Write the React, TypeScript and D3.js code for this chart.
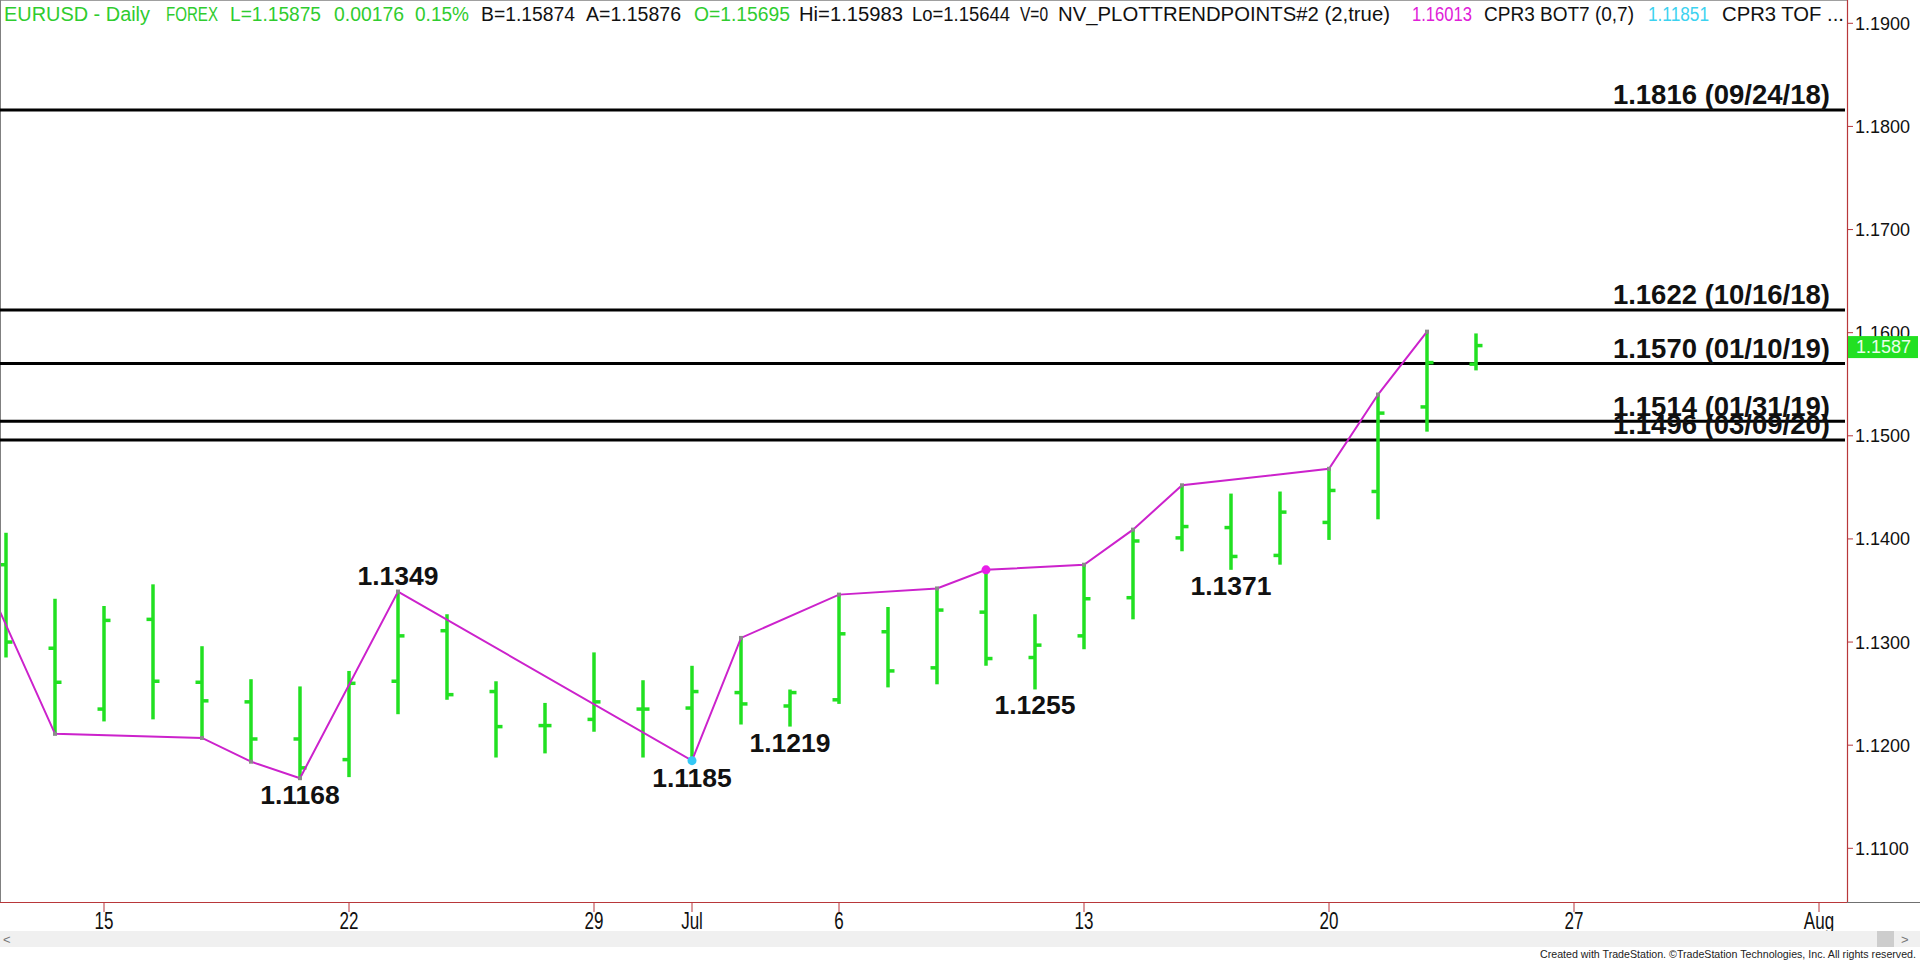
import React from "react";
import * as d3 from "d3";

// ---- data ----
const barDates = [
  "2020-06-11","2020-06-12","2020-06-15","2020-06-16","2020-06-17","2020-06-18","2020-06-19",
  "2020-06-22","2020-06-23","2020-06-24","2020-06-25","2020-06-26","2020-06-29","2020-06-30",
  "2020-07-01","2020-07-02","2020-07-03","2020-07-06","2020-07-07","2020-07-08","2020-07-09",
  "2020-07-10","2020-07-13","2020-07-14","2020-07-15","2020-07-16","2020-07-17","2020-07-20",
  "2020-07-21","2020-07-22","2020-07-23",
];
const opens = [1.1375,1.1294,1.1235,1.1322,1.1261,1.1242,1.1206,1.1186,1.1262,1.1311,1.1252,1.1219,1.1225,1.1235,1.1236,1.1251,1.1238,1.1244,1.1310,1.1275,1.1329,1.1285,1.1306,1.1343,1.1401,1.1411,1.1384,1.1416,1.1446,1.1528,1.15695];
const highs = [1.1405,1.1341,1.1334,1.1355,1.1295,1.1263,1.1256,1.1271,1.1349,1.1326,1.1261,1.1240,1.1289,1.1262,1.1276,1.1304,1.1253,1.1346,1.1333,1.1352,1.1370,1.1326,1.1375,1.1409,1.1452,1.1443,1.1445,1.1468,1.1540,1.1601,1.15983];
const lows = [1.1286,1.1211,1.1224,1.1226,1.1207,1.1184,1.1168,1.1170,1.1231,1.1245,1.1189,1.1193,1.1214,1.1189,1.1185,1.1221,1.1219,1.1241,1.1257,1.1260,1.1278,1.1255,1.1294,1.1323,1.1389,1.1371,1.1376,1.1400,1.1420,1.1505,1.15644];
const closes = [1.1300,1.1261,1.1321,1.1262,1.1243,1.1206,1.1178,1.1260,1.1306,1.1249,1.1218,1.1219,1.1242,1.1235,1.1252,1.1240,1.1251,1.1308,1.1272,1.1331,1.1284,1.1297,1.1342,1.1398,1.1412,1.1383,1.1426,1.1447,1.1522,1.1571,1.15875];

// trend points (bar index, price); index -1 is the prior session (off-screen)
const trendIdx = [-1,1,4,5,6,8,14,15,17,19,20,22,23,24,27,28,29];
const trendVal = [1.1422,1.1211,1.1207,1.1184,1.1168,1.1349,1.1185,1.1304,1.1346,1.1352,1.1370,1.1375,1.1409,1.1452,1.1468,1.1540,1.1601];

// swing labels
const swingIdx = [8,6,14,16,21,25];
const swingVal = [1.1349,1.1168,1.1185,1.1219,1.1255,1.1371];
const swingIsHigh = [true,false,false,false,false,false];

// horizontal levels
const levelVals = [1.1816,1.1622,1.1570,1.1514,1.1496];
const levelDates = ["09/24/18","10/16/18","01/10/19","01/31/19","03/09/20"];

// axes
const yTicks = [1.11,1.12,1.13,1.14,1.15,1.16,1.17,1.18,1.19];
const xTickIdx = [2,7,12,14,17,22,27,32,37];
const xTickLabels = ["15","22","29","Jul","6","13","20","27","Aug"];

const lastPrice = 1.1587;

// header segments
const headerText = [
  "EURUSD - Daily","FOREX","L=1.15875","0.00176","0.15%","B=1.15874","A=1.15876","O=1.15695",
  "Hi=1.15983","Lo=1.15644","V=0","NV_PLOTTRENDPOINTS#2 (2,true)","1.16013","CPR3 BOT7 (0,7)","1.11851","CPR3 TOF ...",
];
const headerColor = ["g","g","g","g","g","k","k","g","k","k","k","k","m","k","c","k"];

const W = 1920, H = 963;
const PLOT_R = 1847, PLOT_B = 902;
const GREEN = "#22e022";
const HGREEN = "#2fcc2f";
const MAGENTA = "#cc22cc";
const AXIS_RED = "#b8373a";

export default function App() {
  const x = d3.scaleLinear().domain([0, 30]).range([6, 1476]);
  const y = d3.scaleLinear().domain([1.11, 1.19]).range([848.3, 23.3]);

  const trendPts: [number, number][] = trendIdx.map((i, k) => [x(i), y(trendVal[k])]);
  const trendPath = d3.line()(trendPts) || "";

  const headerX = [4,166,230,334,415,481,586,694,799,912,1020,1058,1412,1484,1648,1722];
  const headerW = [146,52,91,70,54,94,95,96,104,98,28,332,60,150,61,122];
  const colorMap: Record<string, string> = { g: HGREEN, k: "#111", m: "#e020d8", c: "#3cd2f0" };

  const font = "'Liberation Sans', Arial, sans-serif";

  return (
    <svg width={W} height={H} style={{ position: "absolute", left: 0, top: 0, background: "#fff" }} fontFamily={font}>
      <defs>
        <clipPath id="plotClip">
          <rect x={1} y={1} width={PLOT_R - 1} height={PLOT_B - 1} />
        </clipPath>
      </defs>
      <rect x={0} y={0} width={W} height={H} fill="#fff" />

      {/* frame */}
      <line x1={0} y1={0.5} x2={PLOT_R} y2={0.5} stroke="#a0a0a0" />
      <line x1={0.5} y1={0} x2={0.5} y2={PLOT_B} stroke="#808080" />

      {/* header */}
      {headerText.map((t, i) => (
        <text
          key={"h" + i}
          x={headerX[i]}
          y={21}
          fontSize={19.5}
          fill={colorMap[headerColor[i]]}
          textLength={headerW[i]}
          lengthAdjust="spacingAndGlyphs"
        >
          {t}
        </text>
      ))}

      {/* horizontal levels */}
      {levelVals.map((v, i) => (
        <line key={"lv" + i} x1={0} x2={1845} y1={y(v)} y2={y(v)} stroke="#000" strokeWidth={3} />
      ))}

      <g clipPath="url(#plotClip)">
        {/* bars */}
        {barDates.map((d, i) => {
          const cx = x(i);
          return (
            <g key={d} stroke={GREEN} strokeWidth={3.5}>
              <line x1={cx} x2={cx} y1={y(highs[i]) - 1} y2={y(lows[i]) + 1} />
              <line x1={cx - 6.5} x2={cx} y1={y(opens[i])} y2={y(opens[i])} />
              <line x1={cx} x2={cx + 6.5} y1={y(closes[i])} y2={y(closes[i])} />
            </g>
          );
        })}
        {/* trend line */}
        <path d={trendPath} fill="none" stroke={MAGENTA} strokeWidth={2} />
        {trendPts.map((p, k) => (
          <rect key={"tp" + k} x={p[0] - 2} y={p[1] - 2} width={4} height={4} fill="#8a8a8a" />
        ))}
        <circle cx={x(14)} cy={y(1.1185)} r={4.5} fill="#35c8f5" />
        <circle cx={x(20)} cy={y(1.1370)} r={4.5} fill="#e81ee8" />
      </g>

      {/* level labels */}
      {levelVals.map((v, i) => (
        <text key={"lt" + i} x={1830} y={y(v) - 5.5} textAnchor="end" fontSize={27.5} fontWeight="bold" fill="#111">
          {v.toFixed(4) + " (" + levelDates[i] + ")"}
        </text>
      ))}

      {/* swing labels */}
      {swingIdx.map((si, k) => (
        <text
          key={"sw" + k}
          x={x(si)}
          y={swingIsHigh[k] ? y(swingVal[k]) - 7 : y(swingVal[k]) + 26}
          textAnchor="middle"
          fontSize={26.5}
          fontWeight="bold"
          fill="#111"
        >
          {swingVal[k].toFixed(4)}
        </text>
      ))}

      {/* y axis */}
      <line x1={PLOT_R + 0.5} x2={PLOT_R + 0.5} y1={0} y2={PLOT_B} stroke={AXIS_RED} strokeWidth={1.2} />
      {yTicks.map((v) => (
        <g key={"yt" + v}>
          <line x1={PLOT_R} x2={PLOT_R + 6} y1={y(v)} y2={y(v)} stroke={AXIS_RED} />
          <text x={1855} y={y(v) + 6.5} fontSize={18} fill="#111">
            {v.toFixed(4)}
          </text>
        </g>
      ))}
      {/* last price tag */}
      <rect x={1848} y={y(lastPrice) - 10} width={70} height={22} fill={GREEN} />
      <text x={1856} y={y(lastPrice) + 7} fontSize={18} fill="#eaffea">
        {lastPrice.toFixed(4)}
      </text>

      {/* x axis */}
      <line x1={0} x2={PLOT_R} y1={PLOT_B + 0.5} y2={PLOT_B + 0.5} stroke={AXIS_RED} strokeWidth={1.2} />
      <line x1={PLOT_R} x2={W} y1={PLOT_B + 0.5} y2={PLOT_B + 0.5} stroke="#707070" strokeWidth={1} />
      {xTickIdx.map((ti, k) => (
        <g key={"xt" + k}>
          <line x1={x(ti)} x2={x(ti)} y1={PLOT_B} y2={PLOT_B + 10} stroke={AXIS_RED} />
          <g transform={`translate(${x(ti)},929) scale(0.74,1)`}>
            <text x={0} y={0} textAnchor="middle" fontSize={23} fill="#111">
              {xTickLabels[k]}
            </text>
          </g>
        </g>
      ))}

      {/* scrollbar */}
      <rect x={0} y={931} width={W} height={16} fill="#f0f0f0" />
      <rect x={1877} y={931} width={17} height={16} fill="#cdcdcd" />
      <text x={3} y={944} fontSize={13} fill="#777">{"<"}</text>
      <text x={1901} y={944} fontSize={13} fill="#777">{">"}</text>

      {/* copyright */}
      <text x={1540} y={958} fontSize={10.3} fill="#222" textLength={376} lengthAdjust="spacingAndGlyphs">
        Created with TradeStation. ©TradeStation Technologies, Inc. All rights reserved.
      </text>
    </svg>
  );
}
